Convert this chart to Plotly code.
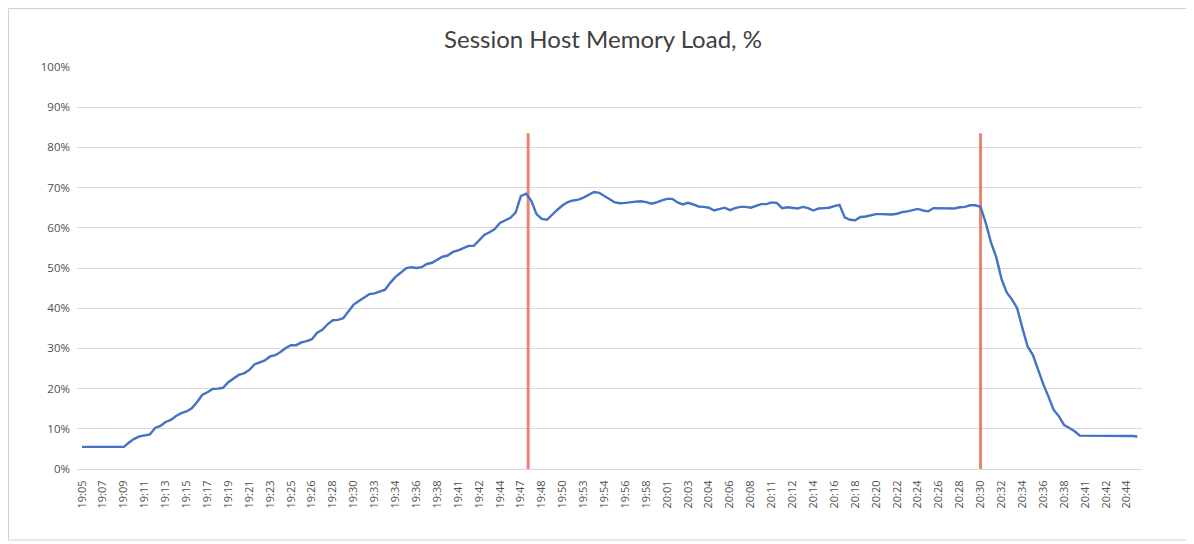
import plotly.graph_objects as go

title_text = "Session Host Memory Load, %"

tick_labels = ["19:05", "19:07", "19:09", "19:11", "19:13", "19:15", "19:17", "19:19",
               "19:21", "19:23", "19:25", "19:26", "19:28", "19:30", "19:33", "19:34",
               "19:36", "19:38", "19:41", "19:42", "19:44", "19:47", "19:48", "19:50",
               "19:53", "19:54", "19:56", "19:58", "20:01", "20:03", "20:04", "20:06",
               "20:08", "20:11", "20:12", "20:14", "20:16", "20:18", "20:20", "20:22",
               "20:24", "20:26", "20:28", "20:30", "20:32", "20:34", "20:36", "20:38",
               "20:41", "20:42", "20:44"]
samples_per_label = 4

memory_load = [
    5.5, 5.5, 5.5, 5.5, 5.5, 5.5, 5.5, 5.5, 5.5, 6.6,
    7.5, 8.1, 8.3, 8.6, 10.2, 10.7, 11.7, 12.2, 13.2, 13.9,
    14.3, 15.1, 16.6, 18.4, 19.1, 19.9, 20.0, 20.2, 21.6, 22.5,
    23.4, 23.8, 24.6, 26.0, 26.5, 27.0, 28.0, 28.3, 29.1, 30.1,
    30.8, 30.8, 31.5, 31.8, 32.3, 33.9, 34.6, 36.0, 37.0, 37.1,
    37.5, 39.2, 40.9, 41.8, 42.7, 43.5, 43.7, 44.1, 44.6, 46.3,
    47.8, 48.8, 49.9, 50.2, 50.0, 50.2, 51.0, 51.3, 52.0, 52.8,
    53.1, 54.0, 54.4, 54.9, 55.5, 55.5, 56.9, 58.2, 58.9, 59.7,
    61.2, 61.9, 62.5, 63.8, 67.9, 68.5, 66.7, 63.4, 62.2, 62.0,
    63.3, 64.5, 65.6, 66.4, 66.8, 67.0, 67.5, 68.1, 68.9, 68.7,
    67.8, 67.1, 66.3, 66.1, 66.2, 66.4, 66.5, 66.6, 66.4, 66.0,
    66.3, 66.8, 67.2, 67.2, 66.3, 65.8, 66.2, 65.8, 65.3, 65.2,
    65.0, 64.3, 64.7, 65.0, 64.4, 64.9, 65.2, 65.2, 65.0, 65.4,
    65.9, 65.9, 66.3, 66.2, 64.9, 65.1, 65.0, 64.8, 65.2, 64.9,
    64.3, 64.8, 64.9, 65.0, 65.4, 65.7, 62.6, 62.0, 61.9, 62.7,
    62.8, 63.1, 63.4, 63.4, 63.4, 63.3, 63.5, 63.9, 64.1, 64.4,
    64.7, 64.3, 64.1, 64.9, 64.9, 64.9, 64.8, 64.8, 65.1, 65.2,
    65.6, 65.6, 65.2, 61.2, 56.3, 52.7, 47.3, 43.9, 42.2, 40.0,
    35.1, 30.5, 28.4, 24.6, 21.1, 18.0, 14.7, 13.1, 10.9, 10.2,
    9.4, 8.3, 8.3, 8.3, 8.3, 8.3, 8.3, 8.3, 8.2, 8.2,
    8.2, 8.2, 8.1,
]

marker_positions = [85.4, 172.0]   # sample index of the red vertical markers
marker_top = 83.5                  # % reached by the red markers

x_idx = list(range(len(memory_load)))
tick_vals = [i * samples_per_label for i in range(len(tick_labels))]

fig = go.Figure()

for mp in marker_positions:
    fig.add_trace(go.Scatter(
        x=[mp, mp], y=[0, marker_top], mode="lines",
        line=dict(color="#EA8472", width=3),
        hoverinfo="skip", showlegend=False,
    ))

fig.add_trace(go.Scatter(
    x=x_idx, y=memory_load, mode="lines",
    line=dict(color="#4472C4", width=2.4),
    showlegend=False, name="Memory Load",
))

# page body adds an 8px offset, so the figure is sized/placed to compensate
W, H = 1186, 536
ml, mr, mt, mb = 69, 52, 59, 75
pw, ph = W - ml - mr, H - mt - mb

fig.update_layout(
    width=W, height=H,
    margin=dict(l=ml, r=mr, t=mt, b=mb),
    paper_bgcolor="white", plot_bgcolor="white",
    title=dict(text=title_text, x=595 / W, xref="container", xanchor="center",
               y=1 - 32 / H, yref="container", yanchor="middle",
               font=dict(family="Lato", size=24, color="#404040")),
    font=dict(family="Open Sans", color="#505050"),
    xaxis=dict(
        range=[-0.96, 202.9], tickmode="array", tickvals=tick_vals, ticktext=tick_labels,
        tickangle=-90, tickfont=dict(size=11, color="#505050"),
        ticklabelstandoff=6,
        showgrid=False, zeroline=False, showline=True, linecolor="#D9D9D9", linewidth=1,
        ticks="", fixedrange=True,
    ),
    yaxis=dict(
        range=[0, 100], dtick=10, ticksuffix="%",
        tickfont=dict(size=11.5, color="#505050"),
        ticklabelstandoff=6,
        showgrid=True, gridcolor="#D9D9D9", gridwidth=1,
        zeroline=False, showline=False, ticks="", fixedrange=True,
    ),
    shapes=[dict(
        type="rect", xref="paper", yref="paper",
        x0=(0.5 - ml) / pw, x1=(1184 - ml) / pw,
        y0=(H - mb - 532) / ph, y1=(H - mb - 0.5) / ph,
        line=dict(color="#D0D0D0", width=1), fillcolor="rgba(0,0,0,0)", layer="below",
    )],
)

fig.write_html("out.html")
